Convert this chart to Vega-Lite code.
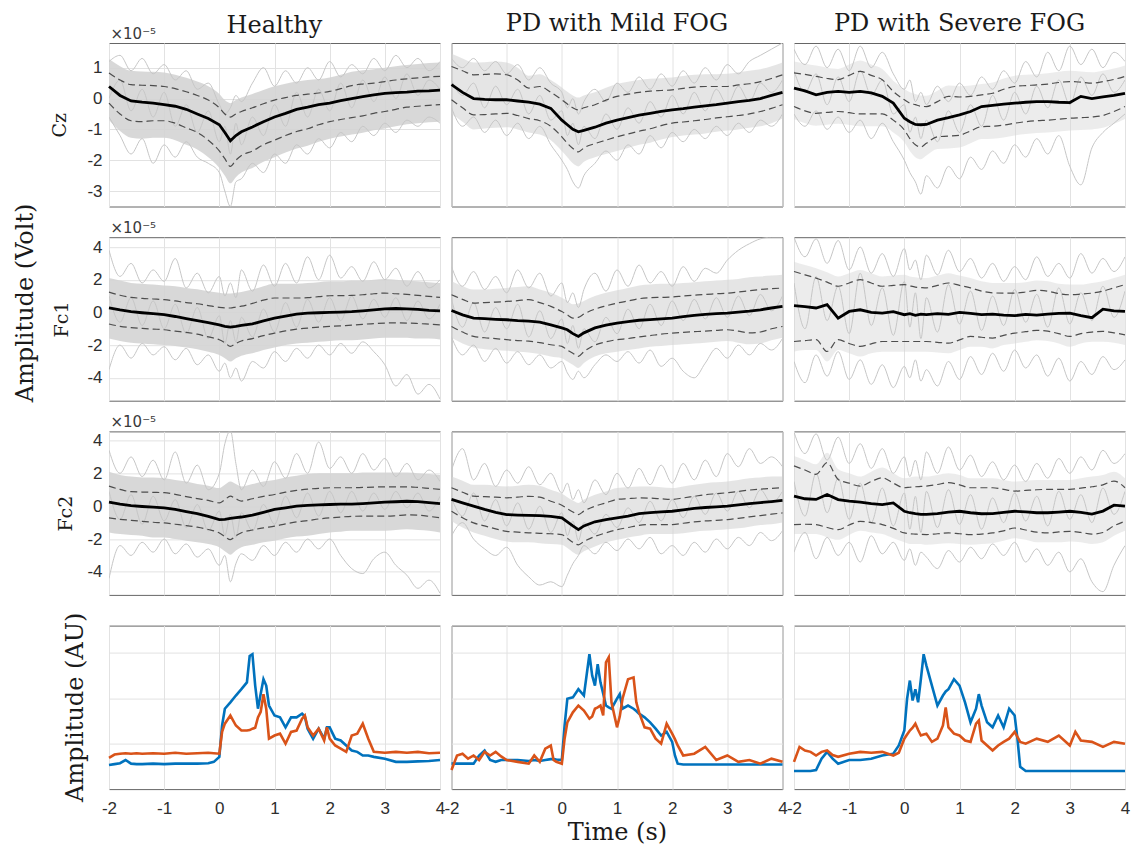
{
"$schema":"https://vega.github.io/schema/vega-lite/v6.json",
"background":"white",
"padding":{"left":13,"top":11,"right":2,"bottom":2},
"config":{
"view":{"stroke":"#666666","strokeWidth":1},
"axis":{"grid":true,"gridColor":"#e2e2e2","domain":false,"ticks":false,"labelFont":"Liberation Sans","labelFontSize":17,"labelColor":"#2e2e2e","titleFont":"DejaVu Serif","titleFontWeight":"normal","titleColor":"#1a1a1a","titleFontSize":24},
"title":{"font":"DejaVu Serif","fontSize":24,"fontWeight":"normal","color":"#1a1a1a"}
},
"datasets":{
"czH":[{"t":-2,"m":0.39,"u":0.83,"l":-0.15,"h":1.28,"w":-0.7,"a":1.2,"b":-0.6,"c":0},
{"t":-1.8,"m":0.1,"u":0.6,"l":-0.5,"h":1.05,"w":-1.05,"a":1.4,"b":-1.2,"c":0.6},
{"t":-1.6,"m":-0.08,"u":0.45,"l":-0.72,"h":0.9,"w":-1.27,"a":0.9,"b":-1.8,"c":-0.4},
{"t":-1.4,"m":-0.12,"u":0.43,"l":-0.75,"h":0.88,"w":-1.3,"a":1.3,"b":-1.3,"c":0.3},
{"t":-1.2,"m":-0.15,"u":0.42,"l":-0.72,"h":0.87,"w":-1.27,"a":0.8,"b":-2.1,"c":-0.6},
{"t":-1,"m":-0.2,"u":0.39,"l":-0.72,"h":0.84,"w":-1.27,"a":1.1,"b":-1.5,"c":0.2},
{"t":-0.8,"m":-0.25,"u":0.32,"l":-0.8,"h":0.77,"w":-1.35,"a":0.6,"b":-1.9,"c":-0.9},
{"t":-0.6,"m":-0.35,"u":0.22,"l":-0.95,"h":0.67,"w":-1.5,"a":0.9,"b":-1.4,"c":-0.2},
{"t":-0.4,"m":-0.5,"u":0.1,"l":-1.1,"h":0.55,"w":-1.65,"a":0.3,"b":-1.9,"c":-1.1},
{"t":-0.2,"m":-0.65,"u":-0.05,"l":-1.35,"h":0.4,"w":-1.9,"a":0.5,"b":-2.1,"c":-0.4},
{"t":0,"m":-0.85,"u":-0.3,"l":-1.7,"h":0.15,"w":-2.25,"a":-0.2,"b":-2.4,"c":-1.4},
{"t":0.1,"m":-1.1,"u":-0.5,"l":-1.95,"h":-0.05,"w":-2.5,"a":-0.5,"b":-3,"c":-0.9},
{"t":0.2,"m":-1.37,"u":-0.6,"l":-2.2,"h":-0.15,"w":-2.75,"a":-0.3,"b":-3.5,"c":-1.8},
{"t":0.3,"m":-1.2,"u":-0.5,"l":-2,"h":-0.05,"w":-2.55,"a":0.1,"b":-2.7,"c":-0.8},
{"t":0.4,"m":-1.08,"u":-0.42,"l":-1.85,"h":0.03,"w":-2.4,"a":-0.1,"b":-2.6,"c":-1.5},
{"t":0.6,"m":-0.92,"u":-0.3,"l":-1.7,"h":0.15,"w":-2.25,"a":0.5,"b":-2.1,"c":-0.6},
{"t":0.8,"m":-0.75,"u":-0.17,"l":-1.5,"h":0.28,"w":-2.05,"a":1,"b":-2.4,"c":-1.2},
{"t":1,"m":-0.6,"u":-0.05,"l":-1.35,"h":0.4,"w":-1.9,"a":0.4,"b":-1.8,"c":-0.2},
{"t":1.2,"m":-0.48,"u":0.03,"l":-1.2,"h":0.48,"w":-1.75,"a":0.9,"b":-2.1,"c":-0.9},
{"t":1.4,"m":-0.35,"u":0.1,"l":-1.07,"h":0.55,"w":-1.62,"a":0.5,"b":-1.5,"c":0.2},
{"t":1.6,"m":-0.28,"u":0.14,"l":-0.98,"h":0.6,"w":-1.53,"a":1,"b":-1.8,"c":-0.6},
{"t":1.8,"m":-0.2,"u":0.18,"l":-0.85,"h":0.63,"w":-1.4,"a":0.6,"b":-1.3,"c":0.3},
{"t":2,"m":-0.15,"u":0.23,"l":-0.75,"h":0.68,"w":-1.3,"a":1.2,"b":-1.6,"c":-0.4},
{"t":2.2,"m":-0.07,"u":0.32,"l":-0.68,"h":0.77,"w":-1.23,"a":0.7,"b":-1.1,"c":0.5},
{"t":2.4,"m":0,"u":0.42,"l":-0.62,"h":0.87,"w":-1.17,"a":1.1,"b":-1.4,"c":-0.3},
{"t":2.6,"m":0.06,"u":0.47,"l":-0.56,"h":0.92,"w":-1.11,"a":0.8,"b":-0.9,"c":0.6},
{"t":2.8,"m":0.12,"u":0.5,"l":-0.48,"h":0.95,"w":-1.03,"a":1.3,"b":-1.2,"c":-0.1},
{"t":3,"m":0.17,"u":0.55,"l":-0.42,"h":1,"w":-0.97,"a":0.9,"b":-0.8,"c":0.7},
{"t":3.2,"m":0.19,"u":0.6,"l":-0.35,"h":1.05,"w":-0.9,"a":1.4,"b":-1.1,"c":0},
{"t":3.4,"m":0.21,"u":0.64,"l":-0.28,"h":1.09,"w":-0.83,"a":1,"b":-0.7,"c":0.8},
{"t":3.6,"m":0.24,"u":0.67,"l":-0.25,"h":1.12,"w":-0.8,"a":1.3,"b":-0.9,"c":0.1},
{"t":3.8,"m":0.25,"u":0.7,"l":-0.22,"h":1.15,"w":-0.77,"a":0.9,"b":-0.6,"c":0.6},
{"t":4,"m":0.27,"u":0.72,"l":-0.2,"h":1.17,"w":-0.75,"a":1.2,"b":-0.8,"c":0.3}],
"czM":[{"t":-2,"m":0.45,"u":1.04,"l":-0.04,"h":1.45,"w":-0.5,"a":1.3,"b":-0.3,"c":0.6},
{"t":-1.8,"m":0.2,"u":0.9,"l":-0.3,"h":1.3,"w":-0.75,"a":1,"b":-0.9,"c":0.1},
{"t":-1.6,"m":0,"u":0.77,"l":-0.53,"h":1.17,"w":-1,"a":1.3,"b":-0.6,"c":0.5},
{"t":-1.4,"m":-0.03,"u":0.78,"l":-0.52,"h":1.18,"w":-0.97,"a":0.9,"b":-1.1,"c":-0.3},
{"t":-1.2,"m":-0.04,"u":0.8,"l":-0.5,"h":1.2,"w":-0.95,"a":1.2,"b":-0.7,"c":0.4},
{"t":-1,"m":-0.04,"u":0.77,"l":-0.48,"h":1.17,"w":-0.93,"a":0.8,"b":-1.2,"c":-0.2},
{"t":-0.8,"m":-0.08,"u":0.6,"l":-0.55,"h":1,"w":-1,"a":1.1,"b":-0.8,"c":0.3},
{"t":-0.6,"m":-0.12,"u":0.34,"l":-0.65,"h":0.74,"w":-1.1,"a":0.6,"b":-1.3,"c":-0.5},
{"t":-0.4,"m":-0.18,"u":0.39,"l":-0.72,"h":0.79,"w":-1.17,"a":1,"b":-0.9,"c":0.1},
{"t":-0.2,"m":-0.32,"u":0.2,"l":-0.9,"h":0.6,"w":-1.35,"a":0.5,"b":-1.5,"c":-0.7},
{"t":0,"m":-0.7,"u":-0.04,"l":-1.24,"h":0.36,"w":-1.7,"a":0.2,"b":-2,"c":-0.4},
{"t":0.1,"m":-0.85,"u":-0.18,"l":-1.45,"h":0.22,"w":-1.9,"a":-0.3,"b":-2.3,"c":-1.2},
{"t":0.2,"m":-1,"u":-0.3,"l":-1.62,"h":0.1,"w":-2.1,"a":0,"b":-2.7,"c":-0.8},
{"t":0.3,"m":-1.08,"u":-0.37,"l":-1.73,"h":0.03,"w":-2.2,"a":-0.5,"b":-2.9,"c":-1.5},
{"t":0.4,"m":-1.03,"u":-0.3,"l":-1.6,"h":0.1,"w":-2.05,"a":-0.1,"b":-2.5,"c":-0.9},
{"t":0.6,"m":-0.93,"u":-0.2,"l":-1.46,"h":0.2,"w":-1.9,"a":0.3,"b":-2.1,"c":-1.3},
{"t":0.8,"m":-0.8,"u":-0.05,"l":-1.35,"h":0.35,"w":-1.8,"a":-0.1,"b":-1.7,"c":-0.5},
{"t":1,"m":-0.7,"u":0.07,"l":-1.24,"h":0.47,"w":-1.7,"a":0.5,"b":-2,"c":-1},
{"t":1.2,"m":-0.62,"u":0.14,"l":-1.15,"h":0.54,"w":-1.6,"a":0.2,"b":-1.5,"c":-0.3},
{"t":1.4,"m":-0.54,"u":0.2,"l":-1.06,"h":0.6,"w":-1.5,"a":0.7,"b":-1.8,"c":-0.8},
{"t":1.6,"m":-0.48,"u":0.24,"l":-0.98,"h":0.64,"w":-1.43,"a":0.3,"b":-1.2,"c":-0.1},
{"t":1.8,"m":-0.42,"u":0.26,"l":-0.88,"h":0.66,"w":-1.33,"a":0.8,"b":-1.6,"c":-0.6},
{"t":2,"m":-0.37,"u":0.28,"l":-0.8,"h":0.68,"w":-1.25,"a":0.4,"b":-1.1,"c":0.1},
{"t":2.2,"m":-0.33,"u":0.33,"l":-0.76,"h":0.73,"w":-1.2,"a":0.9,"b":-1.4,"c":-0.5},
{"t":2.4,"m":-0.28,"u":0.37,"l":-0.72,"h":0.77,"w":-1.17,"a":0.5,"b":-1,"c":0.2},
{"t":2.6,"m":-0.24,"u":0.39,"l":-0.68,"h":0.79,"w":-1.13,"a":1,"b":-1.3,"c":-0.4},
{"t":2.8,"m":-0.2,"u":0.39,"l":-0.63,"h":0.79,"w":-1.08,"a":0.6,"b":-0.9,"c":0.3},
{"t":3,"m":-0.15,"u":0.39,"l":-0.59,"h":0.8,"w":-1.04,"a":1.1,"b":-1.2,"c":-0.2},
{"t":3.2,"m":-0.1,"u":0.44,"l":-0.55,"h":0.85,"w":-1,"a":0.8,"b":-0.8,"c":0.4},
{"t":3.4,"m":-0.06,"u":0.48,"l":-0.5,"h":0.9,"w":-0.95,"a":1.2,"b":-1.1,"c":-0.1},
{"t":3.6,"m":0,"u":0.55,"l":-0.42,"h":0.95,"w":-0.9,"a":1.4,"b":-0.7,"c":0.5},
{"t":3.8,"m":0.1,"u":0.65,"l":-0.32,"h":1.05,"w":-0.8,"a":1.6,"b":-0.9,"c":0.2},
{"t":4,"m":0.2,"u":0.77,"l":-0.2,"h":1.17,"w":-0.65,"a":1.8,"b":-0.5,"c":0.6}],
"czS":[{"t":-2,"m":0.34,"u":0.83,"l":-0.26,"h":1.2,"w":-0.66,"a":1.6,"b":-0.5,"c":0.9},
{"t":-1.8,"m":0.25,"u":0.78,"l":-0.4,"h":1.13,"w":-0.8,"a":1.1,"b":-0.9,"c":0.2},
{"t":-1.6,"m":0.12,"u":0.72,"l":-0.48,"h":1.07,"w":-0.88,"a":1.7,"b":-0.4,"c":0.8},
{"t":-1.4,"m":0.2,"u":0.65,"l":-0.45,"h":1,"w":-0.85,"a":1,"b":-1,"c":-0.2},
{"t":-1.2,"m":0.23,"u":0.61,"l":-0.42,"h":0.96,"w":-0.82,"a":1.6,"b":-0.6,"c":0.7},
{"t":-1,"m":0.2,"u":0.75,"l":-0.46,"h":1.1,"w":-0.86,"a":0.9,"b":-1.1,"c":-0.1},
{"t":-0.8,"m":0.23,"u":0.88,"l":-0.5,"h":1.23,"w":-0.9,"a":1.7,"b":-0.7,"c":0.9},
{"t":-0.6,"m":0.18,"u":0.75,"l":-0.5,"h":1.1,"w":-0.9,"a":1,"b":-1.3,"c":0.1},
{"t":-0.4,"m":0.07,"u":0.61,"l":-0.5,"h":0.96,"w":-0.9,"a":1.5,"b":-0.8,"c":0.6},
{"t":-0.2,"m":-0.15,"u":0.23,"l":-0.7,"h":0.58,"w":-1.1,"a":0.8,"b":-1.4,"c":-0.5},
{"t":0,"m":-0.64,"u":-0.04,"l":-1.02,"h":0.31,"w":-1.42,"a":0.3,"b":-2,"c":-0.2},
{"t":0.1,"m":-0.75,"u":-0.15,"l":-1.3,"h":0.2,"w":-1.7,"a":0.6,"b":-2.4,"c":-1.1},
{"t":0.2,"m":-0.84,"u":-0.2,"l":-1.5,"h":0.15,"w":-1.9,"a":-0.1,"b":-2.7,"c":-0.6},
{"t":0.3,"m":-0.85,"u":-0.25,"l":-1.57,"h":0.1,"w":-1.97,"a":0.2,"b":-3.1,"c":-1.3},
{"t":0.4,"m":-0.84,"u":-0.26,"l":-1.45,"h":0.09,"w":-1.85,"a":-0.2,"b":-2.5,"c":-0.7},
{"t":0.6,"m":-0.7,"u":-0.1,"l":-1.24,"h":0.25,"w":-1.64,"a":0.4,"b":-2.9,"c":-1.4},
{"t":0.8,"m":-0.62,"u":0.07,"l":-1.22,"h":0.42,"w":-1.62,"a":-0.1,"b":-2.2,"c":-0.4},
{"t":1,"m":-0.53,"u":0.05,"l":-1.19,"h":0.4,"w":-1.59,"a":0.5,"b":-2.6,"c":-1.1},
{"t":1.2,"m":-0.42,"u":0.07,"l":-1.05,"h":0.42,"w":-1.45,"a":0.1,"b":-1.9,"c":-0.2},
{"t":1.4,"m":-0.26,"u":0.12,"l":-0.91,"h":0.47,"w":-1.31,"a":0.7,"b":-2.3,"c":-0.9},
{"t":1.6,"m":-0.22,"u":0.17,"l":-0.9,"h":0.52,"w":-1.3,"a":0.3,"b":-1.7,"c":0.1},
{"t":1.8,"m":-0.18,"u":0.3,"l":-0.86,"h":0.65,"w":-1.26,"a":0.9,"b":-2.1,"c":-0.7},
{"t":2,"m":-0.15,"u":0.39,"l":-0.8,"h":0.74,"w":-1.2,"a":0.5,"b":-1.5,"c":0.2},
{"t":2.2,"m":-0.12,"u":0.42,"l":-0.75,"h":0.77,"w":-1.15,"a":1.2,"b":-1.9,"c":-0.5},
{"t":2.4,"m":-0.1,"u":0.44,"l":-0.72,"h":0.79,"w":-1.12,"a":0.7,"b":-1.3,"c":0.4},
{"t":2.6,"m":-0.1,"u":0.47,"l":-0.7,"h":0.82,"w":-1.1,"a":1.5,"b":-1.8,"c":-0.3},
{"t":2.8,"m":-0.12,"u":0.52,"l":-0.67,"h":0.87,"w":-1.07,"a":0.9,"b":-1.2,"c":0.6},
{"t":3,"m":-0.13,"u":0.55,"l":-0.64,"h":0.9,"w":-1.04,"a":1.7,"b":-2.2,"c":-0.2},
{"t":3.2,"m":0.07,"u":0.53,"l":-0.62,"h":0.88,"w":-1.02,"a":1.1,"b":-2.8,"c":0.7},
{"t":3.4,"m":0,"u":0.5,"l":-0.6,"h":0.85,"w":-1,"a":1.6,"b":-1.6,"c":0.1},
{"t":3.6,"m":0.05,"u":0.55,"l":-0.55,"h":0.9,"w":-0.95,"a":1,"b":-1.1,"c":0.8},
{"t":3.8,"m":0.1,"u":0.62,"l":-0.42,"h":0.97,"w":-0.82,"a":1.5,"b":-0.8,"c":0.2},
{"t":4,"m":0.17,"u":0.72,"l":-0.26,"h":1.07,"w":-0.66,"a":1.2,"b":-0.5,"c":0.6}],
"f1H":[{"t":-2,"m":0.27,"u":1.24,"l":-0.71,"h":2.1,"w":-1.6,"a":3.8,"b":-3.5,"c":1},
{"t":-1.8,"m":0.15,"u":1.05,"l":-0.85,"h":1.95,"w":-1.75,"a":2.2,"b":-2,"c":-0.6},
{"t":-1.6,"m":0.05,"u":0.92,"l":-0.93,"h":1.8,"w":-1.85,"a":3,"b":-2.8,"c":0.9},
{"t":-1.4,"m":-0.02,"u":0.86,"l":-0.98,"h":1.75,"w":-1.9,"a":1.8,"b":-1.9,"c":-0.8},
{"t":-1.2,"m":-0.08,"u":0.82,"l":-1.02,"h":1.7,"w":-1.95,"a":2.6,"b":-2.6,"c":0.7},
{"t":-1,"m":-0.14,"u":0.78,"l":-1.06,"h":1.65,"w":-2,"a":1.9,"b":-2.1,"c":-1},
{"t":-0.8,"m":-0.25,"u":0.7,"l":-1.15,"h":1.6,"w":-2.05,"a":3.3,"b":-2.9,"c":0.5},
{"t":-0.6,"m":-0.38,"u":0.6,"l":-1.22,"h":1.5,"w":-2.15,"a":1.5,"b":-2.2,"c":-1.3},
{"t":-0.4,"m":-0.5,"u":0.53,"l":-1.33,"h":1.42,"w":-2.25,"a":2.4,"b":-3.2,"c":0.3},
{"t":-0.2,"m":-0.62,"u":0.42,"l":-1.5,"h":1.3,"w":-2.4,"a":1.2,"b":-2.6,"c":-1.6},
{"t":0,"m":-0.76,"u":0.31,"l":-1.67,"h":1.2,"w":-2.6,"a":2.2,"b":-3.6,"c":-0.2},
{"t":0.1,"m":-0.85,"u":0.28,"l":-1.85,"h":1.15,"w":-2.8,"a":1,"b":-3.1,"c":-1.9},
{"t":0.2,"m":-0.9,"u":0.27,"l":-2.08,"h":1.15,"w":-3,"a":1.8,"b":-4,"c":-0.5},
{"t":0.3,"m":-0.86,"u":0.33,"l":-1.9,"h":1.2,"w":-2.8,"a":0.9,"b":-3.4,"c":-1.8},
{"t":0.4,"m":-0.8,"u":0.38,"l":-1.75,"h":1.25,"w":-2.65,"a":2.6,"b":-4.2,"c":-0.3},
{"t":0.6,"m":-0.7,"u":0.55,"l":-1.6,"h":1.4,"w":-2.5,"a":1.3,"b":-3,"c":-1.5},
{"t":0.8,"m":-0.52,"u":0.75,"l":-1.42,"h":1.6,"w":-2.3,"a":2.9,"b":-3.4,"c":0.2},
{"t":1,"m":-0.35,"u":0.88,"l":-1.27,"h":1.75,"w":-2.15,"a":1.6,"b":-2.4,"c":-1.2},
{"t":1.2,"m":-0.22,"u":0.88,"l":-1.13,"h":1.75,"w":-2,"a":3,"b":-3,"c":0.6},
{"t":1.4,"m":-0.1,"u":0.88,"l":-1.02,"h":1.75,"w":-1.9,"a":1.8,"b":-2.2,"c":-0.9},
{"t":1.6,"m":-0.04,"u":0.9,"l":-0.96,"h":1.8,"w":-1.85,"a":3.4,"b":-2.8,"c":0.8},
{"t":1.8,"m":-0.02,"u":0.96,"l":-0.9,"h":1.85,"w":-1.8,"a":2,"b":-2,"c":-0.6},
{"t":2,"m":0,"u":1.02,"l":-0.86,"h":1.9,"w":-1.75,"a":3.5,"b":-2.6,"c":0.9},
{"t":2.2,"m":0.02,"u":1.03,"l":-0.82,"h":1.9,"w":-1.7,"a":2.1,"b":-1.9,"c":-0.5},
{"t":2.4,"m":0.05,"u":1.04,"l":-0.78,"h":1.95,"w":-1.7,"a":2.8,"b":-2.5,"c":1},
{"t":2.6,"m":0.1,"u":1.08,"l":-0.73,"h":1.95,"w":-1.65,"a":1.9,"b":-1.8,"c":-0.4},
{"t":2.8,"m":0.16,"u":1.14,"l":-0.68,"h":2,"w":-1.6,"a":3.1,"b":-2.4,"c":0.8},
{"t":3,"m":0.22,"u":1.18,"l":-0.65,"h":2.05,"w":-1.55,"a":2,"b":-3.2,"c":-0.3},
{"t":3.2,"m":0.24,"u":1.14,"l":-0.64,"h":2,"w":-1.55,"a":2.7,"b":-4.5,"c":0.9},
{"t":3.4,"m":0.22,"u":1.1,"l":-0.65,"h":1.95,"w":-1.55,"a":1.6,"b":-3.8,"c":-0.5},
{"t":3.6,"m":0.18,"u":1.04,"l":-0.68,"h":1.9,"w":-1.6,"a":2.5,"b":-5,"c":0.7},
{"t":3.8,"m":0.12,"u":0.98,"l":-0.72,"h":1.85,"w":-1.6,"a":1.5,"b":-4.4,"c":-0.4},
{"t":4,"m":0.1,"u":0.92,"l":-0.76,"h":1.8,"w":-1.65,"a":2,"b":-5.3,"c":0.5}],
"f1M":[{"t":-2,"m":0.12,"u":1.08,"l":-0.86,"h":1.9,"w":-1.55,"a":2.8,"b":-1.5,"c":0.8},
{"t":-1.8,"m":-0.15,"u":0.8,"l":-1.2,"h":1.6,"w":-1.9,"a":1.6,"b":-2.6,"c":-0.9},
{"t":-1.6,"m":-0.35,"u":0.57,"l":-1.47,"h":1.4,"w":-2.15,"a":2.5,"b":-2,"c":0.6},
{"t":-1.4,"m":-0.38,"u":0.6,"l":-1.55,"h":1.4,"w":-2.25,"a":1.4,"b":-3,"c":-1.2},
{"t":-1.2,"m":-0.42,"u":0.63,"l":-1.6,"h":1.45,"w":-2.3,"a":2.2,"b":-2.2,"c":0.3},
{"t":-1,"m":-0.45,"u":0.67,"l":-1.67,"h":1.5,"w":-2.35,"a":1.2,"b":-3.1,"c":-1},
{"t":-0.8,"m":-0.5,"u":0.72,"l":-1.72,"h":1.55,"w":-2.4,"a":2.6,"b":-2.4,"c":0.5},
{"t":-0.6,"m":-0.53,"u":0.78,"l":-1.76,"h":1.6,"w":-2.45,"a":1.5,"b":-3.2,"c":-1.5},
{"t":-0.4,"m":-0.6,"u":0.6,"l":-1.85,"h":1.4,"w":-2.55,"a":2.4,"b":-2.6,"c":0.1},
{"t":-0.2,"m":-0.76,"u":0.37,"l":-1.98,"h":1.2,"w":-2.7,"a":1,"b":-3.4,"c":-1.6},
{"t":0,"m":-0.95,"u":0.05,"l":-2.08,"h":0.9,"w":-2.8,"a":1.8,"b":-3,"c":-0.4},
{"t":0.1,"m":-1.06,"u":-0.15,"l":-2.3,"h":0.7,"w":-3,"a":0.6,"b":-3.7,"c":-1.9},
{"t":0.2,"m":-1.3,"u":-0.35,"l":-2.5,"h":0.5,"w":-3.2,"a":1.2,"b":-4.1,"c":-0.8},
{"t":0.3,"m":-1.47,"u":-0.3,"l":-2.69,"h":0.55,"w":-3.4,"a":0.3,"b":-3.6,"c":-2.2},
{"t":0.4,"m":-1.25,"u":-0.1,"l":-2.4,"h":0.7,"w":-3.1,"a":1.4,"b":-4,"c":-1},
{"t":0.6,"m":-0.95,"u":0.2,"l":-2,"h":1,"w":-2.7,"a":2.4,"b":-3.2,"c":-1.8},
{"t":0.8,"m":-0.78,"u":0.4,"l":-1.8,"h":1.2,"w":-2.5,"a":1.3,"b":-2.6,"c":-0.3},
{"t":1,"m":-0.65,"u":0.57,"l":-1.67,"h":1.35,"w":-2.4,"a":2.6,"b":-3,"c":-1.3},
{"t":1.2,"m":-0.57,"u":0.7,"l":-1.6,"h":1.5,"w":-2.3,"a":1.6,"b":-2.4,"c":0.2},
{"t":1.4,"m":-0.48,"u":0.84,"l":-1.5,"h":1.65,"w":-2.2,"a":2.9,"b":-3.1,"c":-1},
{"t":1.6,"m":-0.44,"u":0.9,"l":-1.42,"h":1.7,"w":-2.1,"a":1.8,"b":-2.3,"c":0.5},
{"t":1.8,"m":-0.4,"u":0.92,"l":-1.33,"h":1.75,"w":-2.05,"a":2.5,"b":-3.3,"c":-0.8},
{"t":2,"m":-0.35,"u":0.94,"l":-1.27,"h":1.75,"w":-2,"a":1.6,"b":-2.8,"c":0.7},
{"t":2.2,"m":-0.26,"u":1,"l":-1.22,"h":1.8,"w":-1.95,"a":2.8,"b":-3.6,"c":-0.5},
{"t":2.4,"m":-0.18,"u":1.05,"l":-1.18,"h":1.85,"w":-1.9,"a":1.9,"b":-4,"c":0.8},
{"t":2.6,"m":-0.12,"u":1.1,"l":-1.14,"h":1.9,"w":-1.85,"a":2.7,"b":-3.1,"c":-0.4},
{"t":2.8,"m":-0.08,"u":1.14,"l":-1.1,"h":1.95,"w":-1.8,"a":2.4,"b":-2.2,"c":0.9},
{"t":3,"m":-0.04,"u":1.18,"l":-1.06,"h":2,"w":-1.75,"a":3.2,"b":-2.8,"c":-0.3},
{"t":3.2,"m":0.02,"u":1.25,"l":-1.15,"h":2.05,"w":-1.85,"a":3.8,"b":-2,"c":1},
{"t":3.4,"m":0.08,"u":1.33,"l":-1.25,"h":2.15,"w":-1.95,"a":4.2,"b":-2.6,"c":-0.2},
{"t":3.6,"m":0.16,"u":1.4,"l":-1.2,"h":2.2,"w":-1.9,"a":4.5,"b":-1.9,"c":1.1},
{"t":3.8,"m":0.27,"u":1.45,"l":-1,"h":2.25,"w":-1.7,"a":4.6,"b":-2.3,"c":0.1},
{"t":4,"m":0.37,"u":1.49,"l":-0.86,"h":2.3,"w":-1.55,"a":4.6,"b":-1.6,"c":1}],
"f1S":[{"t":-2,"m":0.41,"u":2.5,"l":-1.78,"h":3.1,"w":-2.4,"a":4.6,"b":-3,"c":1.8},
{"t":-1.8,"m":0.35,"u":2.3,"l":-1.72,"h":2.9,"w":-2.3,"a":3.4,"b":-4.3,"c":-1},
{"t":-1.6,"m":0.27,"u":2.1,"l":-1.67,"h":2.7,"w":-2.3,"a":4.5,"b":-2.6,"c":2.2},
{"t":-1.4,"m":0.47,"u":1.85,"l":-2.39,"h":2.45,"w":-3,"a":3,"b":-3.9,"c":-0.5},
{"t":-1.2,"m":-0.35,"u":1.6,"l":-1.67,"h":2.2,"w":-2.3,"a":4.4,"b":-2.4,"c":1.6},
{"t":-1,"m":0.06,"u":1.8,"l":-1.9,"h":2.4,"w":-2.5,"a":2.6,"b":-4.1,"c":-1.3},
{"t":-0.8,"m":0.16,"u":2,"l":-2.08,"h":2.6,"w":-2.7,"a":4,"b":-2.9,"c":2.4},
{"t":-0.6,"m":0,"u":1.8,"l":-1.92,"h":2.4,"w":-2.5,"a":2.4,"b":-4.4,"c":-0.8},
{"t":-0.4,"m":-0.04,"u":1.6,"l":-1.78,"h":2.2,"w":-2.4,"a":3.6,"b":-3.2,"c":1.5},
{"t":-0.2,"m":0.05,"u":1.65,"l":-1.78,"h":2.25,"w":-2.4,"a":2.2,"b":-4.6,"c":-1.4},
{"t":0,"m":-0.14,"u":1.7,"l":-1.78,"h":2.3,"w":-2.4,"a":3.9,"b":-3.3,"c":1.9},
{"t":0.1,"m":-0.08,"u":1.62,"l":-1.78,"h":2.2,"w":-2.4,"a":2.6,"b":-4,"c":-0.9},
{"t":0.2,"m":-0.18,"u":1.55,"l":-1.78,"h":2.15,"w":-2.4,"a":3.2,"b":-2.9,"c":1.2},
{"t":0.3,"m":-0.1,"u":1.52,"l":-1.78,"h":2.1,"w":-2.4,"a":2,"b":-4.2,"c":-1.6},
{"t":0.4,"m":-0.14,"u":1.5,"l":-1.78,"h":2.1,"w":-2.4,"a":3.5,"b":-3.5,"c":0.9},
{"t":0.6,"m":-0.08,"u":1.65,"l":-1.83,"h":2.25,"w":-2.45,"a":2.3,"b":-4.5,"c":-1.2},
{"t":0.8,"m":-0.12,"u":1.8,"l":-1.88,"h":2.4,"w":-2.5,"a":3.8,"b":-3,"c":1.7},
{"t":1,"m":0,"u":1.65,"l":-1.68,"h":2.25,"w":-2.3,"a":2.5,"b":-4.1,"c":-0.7},
{"t":1.2,"m":-0.06,"u":1.5,"l":-1.47,"h":2.1,"w":-2.1,"a":3.3,"b":-2.7,"c":1.3},
{"t":1.4,"m":-0.14,"u":1.3,"l":-1.52,"h":1.9,"w":-2.1,"a":2.1,"b":-3.8,"c":-1.1},
{"t":1.6,"m":-0.1,"u":1.2,"l":-1.57,"h":1.8,"w":-2.2,"a":3,"b":-2.5,"c":1},
{"t":1.8,"m":-0.16,"u":1.18,"l":-1.4,"h":1.8,"w":-2,"a":1.9,"b":-3.6,"c":-0.8},
{"t":2,"m":-0.2,"u":1.18,"l":-1.27,"h":1.8,"w":-1.9,"a":2.8,"b":-2.3,"c":1.4},
{"t":2.2,"m":-0.12,"u":1.25,"l":-1.18,"h":1.85,"w":-1.8,"a":2,"b":-3.4,"c":-0.6},
{"t":2.4,"m":-0.16,"u":1.35,"l":-1.1,"h":1.95,"w":-1.7,"a":3.4,"b":-2.6,"c":1.1},
{"t":2.6,"m":-0.1,"u":1.3,"l":-1.15,"h":1.9,"w":-1.75,"a":2.2,"b":-3.9,"c":-0.9},
{"t":2.8,"m":-0.06,"u":1.15,"l":-1.3,"h":1.75,"w":-1.9,"a":3,"b":-2.8,"c":1.5},
{"t":3,"m":-0.04,"u":1.08,"l":-1.47,"h":1.7,"w":-2.1,"a":2.1,"b":-4.2,"c":-0.7},
{"t":3.2,"m":-0.2,"u":1.12,"l":-1.3,"h":1.7,"w":-1.9,"a":3.6,"b":-3,"c":1.2},
{"t":3.4,"m":-0.32,"u":1.18,"l":-1.2,"h":1.8,"w":-1.8,"a":2.4,"b":-3.8,"c":-0.5},
{"t":3.6,"m":0.2,"u":1.3,"l":-1.16,"h":1.9,"w":-1.8,"a":3.3,"b":-2.7,"c":1.6},
{"t":3.8,"m":0.1,"u":1.5,"l":-1.25,"h":2.1,"w":-1.85,"a":2.5,"b":-3.5,"c":-0.3},
{"t":4,"m":0.06,"u":1.7,"l":-1.37,"h":2.3,"w":-2,"a":3.4,"b":-2.9,"c":1.3}],
"f2H":[{"t":-2,"m":0.24,"u":1.22,"l":-0.71,"h":2.1,"w":-1.6,"a":3.4,"b":-4.4,"c":0.9},
{"t":-1.8,"m":0.12,"u":1.02,"l":-0.8,"h":1.9,"w":-1.7,"a":2,"b":-2.4,"c":-0.8},
{"t":-1.6,"m":0.03,"u":0.88,"l":-0.86,"h":1.8,"w":-1.75,"a":3,"b":-3,"c":0.7},
{"t":-1.4,"m":-0.02,"u":0.86,"l":-0.92,"h":1.75,"w":-1.8,"a":1.8,"b":-2.2,"c":-1.1},
{"t":-1.2,"m":-0.06,"u":0.84,"l":-0.98,"h":1.75,"w":-1.9,"a":2.8,"b":-2.8,"c":0.6},
{"t":-1,"m":-0.1,"u":0.82,"l":-1.02,"h":1.7,"w":-1.9,"a":1.6,"b":-2,"c":-0.9},
{"t":-0.8,"m":-0.2,"u":0.72,"l":-1.1,"h":1.6,"w":-2,"a":3.3,"b":-2.9,"c":0.4},
{"t":-0.6,"m":-0.33,"u":0.58,"l":-1.18,"h":1.5,"w":-2.1,"a":1.4,"b":-2.3,"c":-1.3},
{"t":-0.4,"m":-0.46,"u":0.46,"l":-1.28,"h":1.35,"w":-2.2,"a":2.5,"b":-3.1,"c":0.1},
{"t":-0.2,"m":-0.62,"u":0.35,"l":-1.42,"h":1.25,"w":-2.3,"a":1,"b":-2.6,"c":-1.5},
{"t":0,"m":-0.82,"u":0.2,"l":-1.63,"h":1.1,"w":-2.5,"a":2,"b":-3.6,"c":-0.3},
{"t":0.1,"m":-0.8,"u":0.4,"l":-1.85,"h":1.3,"w":-2.75,"a":3.8,"b":-3,"c":-1.8},
{"t":0.2,"m":-0.75,"u":0.61,"l":-2.04,"h":1.5,"w":-2.95,"a":4.6,"b":-4.6,"c":-0.5},
{"t":0.3,"m":-0.7,"u":0.45,"l":-1.8,"h":1.35,"w":-2.7,"a":2.6,"b":-3.5,"c":-1.9},
{"t":0.4,"m":-0.66,"u":0.31,"l":-1.62,"h":1.2,"w":-2.5,"a":1,"b":-2.9,"c":-0.4},
{"t":0.6,"m":-0.55,"u":0.45,"l":-1.45,"h":1.35,"w":-2.35,"a":2.2,"b":-3.3,"c":-1.5},
{"t":0.8,"m":-0.38,"u":0.6,"l":-1.32,"h":1.5,"w":-2.2,"a":1.2,"b":-2.4,"c":0.1},
{"t":1,"m":-0.2,"u":0.71,"l":-1.22,"h":1.6,"w":-2.1,"a":2.7,"b":-3,"c":-1.1},
{"t":1.2,"m":-0.1,"u":0.85,"l":-1.08,"h":1.75,"w":-1.95,"a":1.7,"b":-2.2,"c":0.6},
{"t":1.4,"m":0,"u":0.96,"l":-0.96,"h":1.85,"w":-1.85,"a":3.2,"b":-2.8,"c":-0.7},
{"t":1.6,"m":0.05,"u":1.04,"l":-0.88,"h":1.95,"w":-1.8,"a":2,"b":-2,"c":0.8},
{"t":1.8,"m":0.08,"u":1.08,"l":-0.78,"h":2,"w":-1.7,"a":3.9,"b":-2.6,"c":-0.6},
{"t":2,"m":0.1,"u":1.12,"l":-0.71,"h":2,"w":-1.6,"a":2.3,"b":-2,"c":0.9},
{"t":2.2,"m":0.12,"u":1.12,"l":-0.66,"h":2,"w":-1.55,"a":3,"b":-3,"c":-0.4},
{"t":2.4,"m":0.13,"u":1.12,"l":-0.62,"h":2,"w":-1.5,"a":2,"b":-3.8,"c":0.9},
{"t":2.6,"m":0.16,"u":1.14,"l":-0.61,"h":2.05,"w":-1.5,"a":3.2,"b":-4.1,"c":-0.3},
{"t":2.8,"m":0.2,"u":1.16,"l":-0.61,"h":2.05,"w":-1.5,"a":2.2,"b":-3.2,"c":0.8},
{"t":3,"m":0.24,"u":1.18,"l":-0.61,"h":2.05,"w":-1.5,"a":2.9,"b":-2.8,"c":-0.2},
{"t":3.2,"m":0.27,"u":1.18,"l":-0.58,"h":2.05,"w":-1.45,"a":1.8,"b":-3.6,"c":0.9},
{"t":3.4,"m":0.3,"u":1.18,"l":-0.53,"h":2.05,"w":-1.4,"a":2.6,"b":-4.2,"c":-0.1},
{"t":3.6,"m":0.28,"u":1.14,"l":-0.55,"h":2,"w":-1.45,"a":1.6,"b":-5,"c":0.8},
{"t":3.8,"m":0.22,"u":1.08,"l":-0.62,"h":1.95,"w":-1.5,"a":2.2,"b":-4.5,"c":-0.3},
{"t":4,"m":0.16,"u":1.02,"l":-0.71,"h":1.9,"w":-1.6,"a":1.5,"b":-5.3,"c":0.6}],
"f2M":[{"t":-2,"m":0.41,"u":1.12,"l":-0.31,"h":1.8,"w":-0.9,"a":2.2,"b":-1.8,"c":0.5},
{"t":-1.8,"m":0.2,"u":0.85,"l":-0.7,"h":1.55,"w":-1.3,"a":3.5,"b":-1,"c":-0.6},
{"t":-1.6,"m":0,"u":0.61,"l":-1.02,"h":1.3,"w":-1.6,"a":1.6,"b":-2,"c":0.8},
{"t":-1.4,"m":-0.2,"u":0.58,"l":-1.2,"h":1.3,"w":-1.8,"a":2.6,"b":-2.6,"c":-0.9},
{"t":-1.2,"m":-0.38,"u":0.55,"l":-1.38,"h":1.25,"w":-2,"a":1.2,"b":-3,"c":0.4},
{"t":-1,"m":-0.51,"u":0.51,"l":-1.53,"h":1.2,"w":-2.15,"a":2.2,"b":-2.5,"c":-1.2},
{"t":-0.8,"m":-0.54,"u":0.55,"l":-1.58,"h":1.25,"w":-2.2,"a":1.4,"b":-3.6,"c":0.2},
{"t":-0.6,"m":-0.56,"u":0.6,"l":-1.62,"h":1.3,"w":-2.2,"a":2.4,"b":-4.3,"c":-1.4},
{"t":-0.4,"m":-0.58,"u":0.55,"l":-1.65,"h":1.25,"w":-2.25,"a":1.3,"b":-4.8,"c":0},
{"t":-0.2,"m":-0.62,"u":0.3,"l":-1.68,"h":1,"w":-2.3,"a":2,"b":-4.6,"c":-1.6},
{"t":0,"m":-0.71,"u":0.06,"l":-1.73,"h":0.75,"w":-2.35,"a":0.8,"b":-4.9,"c":-0.4},
{"t":0.1,"m":-0.95,"u":-0.15,"l":-1.95,"h":0.55,"w":-2.55,"a":1.4,"b":-4.2,"c":-1.8},
{"t":0.2,"m":-1.2,"u":-0.35,"l":-2.2,"h":0.35,"w":-2.8,"a":0.4,"b":-3.5,"c":-0.9},
{"t":0.3,"m":-1.43,"u":-0.51,"l":-2.35,"h":0.2,"w":-2.95,"a":1,"b":-3,"c":-2.1},
{"t":0.4,"m":-1.2,"u":-0.3,"l":-2.15,"h":0.4,"w":-2.75,"a":0.2,"b":-2.4,"c":-1},
{"t":0.6,"m":-0.95,"u":0,"l":-1.84,"h":0.7,"w":-2.45,"a":1.6,"b":-2.9,"c":-1.7},
{"t":0.8,"m":-0.82,"u":0.2,"l":-1.62,"h":0.9,"w":-2.2,"a":0.7,"b":-2.2,"c":-0.5},
{"t":1,"m":-0.71,"u":0.41,"l":-1.43,"h":1.1,"w":-2.05,"a":2,"b":-2.7,"c":-1.3},
{"t":1.2,"m":-0.6,"u":0.46,"l":-1.3,"h":1.15,"w":-1.9,"a":1.1,"b":-2,"c":-0.1},
{"t":1.4,"m":-0.46,"u":0.5,"l":-1.17,"h":1.2,"w":-1.8,"a":2.3,"b":-2.6,"c":-1},
{"t":1.6,"m":-0.39,"u":0.49,"l":-1.12,"h":1.2,"w":-1.7,"a":1.3,"b":-1.9,"c":0.3},
{"t":1.8,"m":-0.35,"u":0.45,"l":-1.12,"h":1.15,"w":-1.7,"a":2.5,"b":-2.9,"c":-0.9},
{"t":2,"m":-0.31,"u":0.41,"l":-1.12,"h":1.1,"w":-1.7,"a":1.4,"b":-2.4,"c":0.4},
{"t":2.2,"m":-0.22,"u":0.5,"l":-1.04,"h":1.2,"w":-1.65,"a":2.6,"b":-3,"c":-0.7},
{"t":2.4,"m":-0.14,"u":0.6,"l":-0.96,"h":1.3,"w":-1.55,"a":1.6,"b":-2.2,"c":0.6},
{"t":2.6,"m":-0.08,"u":0.7,"l":-0.9,"h":1.4,"w":-1.5,"a":2.8,"b":-2.8,"c":-0.5},
{"t":2.8,"m":-0.04,"u":0.76,"l":-0.86,"h":1.45,"w":-1.45,"a":1.8,"b":-2,"c":0.8},
{"t":3,"m":0,"u":0.82,"l":-0.82,"h":1.5,"w":-1.4,"a":3.2,"b":-2.6,"c":-0.3},
{"t":3.2,"m":0.08,"u":0.9,"l":-0.74,"h":1.6,"w":-1.35,"a":2.4,"b":-1.9,"c":0.9},
{"t":3.4,"m":0.16,"u":0.98,"l":-0.65,"h":1.7,"w":-1.25,"a":3.5,"b":-2.4,"c":-0.1},
{"t":3.6,"m":0.22,"u":1.04,"l":-0.57,"h":1.75,"w":-1.15,"a":2.6,"b":-1.6,"c":1},
{"t":3.8,"m":0.28,"u":1.08,"l":-0.49,"h":1.8,"w":-1.1,"a":3,"b":-2.1,"c":0.2},
{"t":4,"m":0.35,"u":1.12,"l":-0.41,"h":1.8,"w":-1,"a":2.4,"b":-1.5,"c":0.9}],
"f2S":[{"t":-2,"m":0.61,"u":2.45,"l":-1.12,"h":3.05,"w":-1.7,"a":4.5,"b":-2.8,"c":1.5},
{"t":-1.8,"m":0.45,"u":2.2,"l":-1.1,"h":2.8,"w":-1.7,"a":3.2,"b":-1.6,"c":-0.6},
{"t":-1.6,"m":0.41,"u":1.94,"l":-1.12,"h":2.55,"w":-1.7,"a":4.4,"b":-3.2,"c":2},
{"t":-1.4,"m":0.71,"u":2.65,"l":-1.3,"h":3.25,"w":-1.9,"a":2.8,"b":-1.9,"c":-0.4},
{"t":-1.2,"m":0.4,"u":1.63,"l":-1.43,"h":2.25,"w":-2.05,"a":4.2,"b":-3,"c":1.7},
{"t":-1,"m":0.31,"u":1.4,"l":-1.15,"h":2,"w":-1.75,"a":2.6,"b":-2.2,"c":-0.8},
{"t":-0.8,"m":0.25,"u":1.22,"l":-0.92,"h":1.8,"w":-1.5,"a":3.8,"b":-3.4,"c":1.4},
{"t":-0.6,"m":0.15,"u":1.5,"l":-1,"h":2.1,"w":-1.6,"a":2.3,"b":-1.8,"c":-1},
{"t":-0.4,"m":0.1,"u":1.73,"l":-1.12,"h":2.35,"w":-1.7,"a":3.5,"b":-2.9,"c":1.1},
{"t":-0.2,"m":0.2,"u":1.4,"l":-1.35,"h":2,"w":-1.95,"a":2,"b":-2.2,"c":-1.2},
{"t":0,"m":-0.31,"u":1.12,"l":-1.63,"h":1.7,"w":-2.2,"a":3,"b":-3.3,"c":0.8},
{"t":0.1,"m":-0.4,"u":1.15,"l":-1.68,"h":1.75,"w":-2.3,"a":1.8,"b":-2.6,"c":-1.4},
{"t":0.2,"m":-0.46,"u":1.18,"l":-1.7,"h":1.8,"w":-2.3,"a":2.8,"b":-3.6,"c":0.6},
{"t":0.3,"m":-0.5,"u":1.2,"l":-1.72,"h":1.8,"w":-2.3,"a":1.6,"b":-2.8,"c":-1.6},
{"t":0.4,"m":-0.5,"u":1.22,"l":-1.73,"h":1.8,"w":-2.35,"a":3.3,"b":-3.1,"c":0.9},
{"t":0.6,"m":-0.45,"u":1.32,"l":-1.68,"h":1.9,"w":-2.3,"a":2,"b":-3.8,"c":-1.3},
{"t":0.8,"m":-0.36,"u":1.43,"l":-1.63,"h":2,"w":-2.25,"a":3.6,"b":-2.7,"c":1},
{"t":1,"m":-0.31,"u":1.3,"l":-1.68,"h":1.9,"w":-2.3,"a":2.2,"b":-3.4,"c":-1.1},
{"t":1.2,"m":-0.4,"u":1.12,"l":-1.73,"h":1.7,"w":-2.35,"a":3.1,"b":-2.5,"c":0.7},
{"t":1.4,"m":-0.46,"u":1.12,"l":-1.7,"h":1.7,"w":-2.3,"a":1.8,"b":-3.2,"c":-1.4},
{"t":1.6,"m":-0.45,"u":1.12,"l":-1.63,"h":1.7,"w":-2.25,"a":2.7,"b":-2.3,"c":0.5},
{"t":1.8,"m":-0.38,"u":1.02,"l":-1.5,"h":1.6,"w":-2.1,"a":1.6,"b":-3,"c":-1},
{"t":2,"m":-0.31,"u":0.92,"l":-1.33,"h":1.5,"w":-1.95,"a":2.5,"b":-2.2,"c":0.8},
{"t":2.2,"m":-0.35,"u":0.96,"l":-1.45,"h":1.55,"w":-2.05,"a":1.5,"b":-3.4,"c":-0.9},
{"t":2.4,"m":-0.4,"u":1,"l":-1.58,"h":1.6,"w":-2.2,"a":2.6,"b":-2.6,"c":0.6},
{"t":2.6,"m":-0.4,"u":1.02,"l":-1.62,"h":1.6,"w":-2.2,"a":1.7,"b":-3.6,"c":-1.2},
{"t":2.8,"m":-0.36,"u":1.02,"l":-1.57,"h":1.6,"w":-2.2,"a":2.9,"b":-2.8,"c":0.9},
{"t":3,"m":-0.31,"u":1.02,"l":-1.53,"h":1.6,"w":-2.15,"a":2,"b":-4,"c":-0.8},
{"t":3.2,"m":-0.38,"u":1.1,"l":-1.6,"h":1.7,"w":-2.2,"a":3,"b":-3.2,"c":0.7},
{"t":3.4,"m":-0.48,"u":1.18,"l":-1.7,"h":1.8,"w":-2.3,"a":2.2,"b":-4.6,"c":-1},
{"t":3.6,"m":-0.3,"u":1.3,"l":-1.6,"h":1.9,"w":-2.2,"a":3.4,"b":-5.2,"c":1.1},
{"t":3.8,"m":0.06,"u":1.53,"l":-1.2,"h":2.1,"w":-1.8,"a":2.6,"b":-3.6,"c":-0.5},
{"t":4,"m":0,"u":1.12,"l":-0.92,"h":1.7,"w":-1.5,"a":3.2,"b":-2.4,"c":0.9}],
"auH":[{"t":-2,"b":0.53,"o":0.69},{"t":-1.9,"b":0.55,"o":0.76},{"t":-1.8,"b":0.57,"o":0.78},{"t":-1.7,"b":0.64,"o":0.79},{"t":-1.6,"b":0.56,"o":0.78},{"t":-1.5,"b":0.55,"o":0.79},{"t":-1.4,"b":0.55,"o":0.78},{"t":-1.2,"b":0.56,"o":0.79},{"t":-1,"b":0.55,"o":0.78},{"t":-0.8,"b":0.56,"o":0.8},{"t":-0.6,"b":0.56,"o":0.78},{"t":-0.4,"b":0.56,"o":0.79},{"t":-0.2,"b":0.57,"o":0.8},{"t":-0.1,"b":0.6,"o":0.79},{"t":0,"b":0.71,"o":0.78},{"t":0.05,"b":1.4,"o":1.26},{"t":0.1,"b":1.77,"o":1.44},{"t":0.2,"b":1.91,"o":1.62},{"t":0.3,"b":2.06,"o":1.4},{"t":0.4,"b":2.2,"o":1.29},{"t":0.5,"b":2.35,"o":1.29},{"t":0.55,"b":2.93,"o":1.3},{"t":0.6,"b":2.97,"o":1.33},{"t":0.65,"b":2.28,"o":1.35},{"t":0.7,"b":1.77,"o":1.58},{"t":0.75,"b":2.1,"o":1.7},{"t":0.8,"b":2.42,"o":2.09},{"t":0.85,"b":2.28,"o":1.77},{"t":0.9,"b":1.84,"o":1.11},{"t":1,"b":1.62,"o":1.18},{"t":1.1,"b":1.58,"o":1.22},{"t":1.2,"b":1.36,"o":1},{"t":1.3,"b":1.58,"o":1.26},{"t":1.4,"b":1.58,"o":1.29},{"t":1.5,"b":1.66,"o":1.55},{"t":1.55,"b":1.6,"o":1.62},{"t":1.6,"b":1.33,"o":1.36},{"t":1.7,"b":1.11,"o":1.18},{"t":1.8,"b":1.33,"o":1.33},{"t":1.9,"b":1.11,"o":1.07},{"t":1.95,"b":1.36,"o":1.36},{"t":2,"b":1.36,"o":1.11},{"t":2.1,"b":1.11,"o":0.96},{"t":2.2,"b":1.07,"o":0.89},{"t":2.3,"b":0.96,"o":0.82},{"t":2.4,"b":0.85,"o":1.18},{"t":2.5,"b":0.82,"o":1.22},{"t":2.6,"b":0.74,"o":1.44},{"t":2.7,"b":0.74,"o":1.11},{"t":2.8,"b":0.71,"o":0.82},{"t":3,"b":0.67,"o":0.8},{"t":3.2,"b":0.6,"o":0.82},{"t":3.4,"b":0.6,"o":0.8},{"t":3.6,"b":0.61,"o":0.82},{"t":3.8,"b":0.62,"o":0.79},{"t":4,"b":0.64,"o":0.8}],
"auM":[{"t":-2,"b":0.56,"o":0.42},{"t":-1.9,"b":0.56,"o":0.74},{"t":-1.8,"b":0.56,"o":0.78},{"t":-1.7,"b":0.56,"o":0.67},{"t":-1.6,"b":0.56,"o":0.74},{"t":-1.5,"b":0.74,"o":0.64},{"t":-1.4,"b":0.85,"o":0.82},{"t":-1.3,"b":0.64,"o":0.74},{"t":-1.2,"b":0.6,"o":0.82},{"t":-1.1,"b":0.64,"o":0.72},{"t":-1,"b":0.64,"o":0.64},{"t":-0.8,"b":0.64,"o":0.6},{"t":-0.6,"b":0.62,"o":0.56},{"t":-0.5,"b":0.64,"o":0.74},{"t":-0.4,"b":0.62,"o":0.6},{"t":-0.3,"b":0.64,"o":0.89},{"t":-0.2,"b":0.66,"o":0.96},{"t":-0.15,"b":0.66,"o":0.64},{"t":-0.1,"b":0.65,"o":0.6},{"t":0,"b":0.64,"o":0.56},{"t":0.05,"b":1.4,"o":1.11},{"t":0.1,"b":1.99,"o":1.47},{"t":0.2,"b":2.02,"o":1.69},{"t":0.3,"b":2.2,"o":1.84},{"t":0.4,"b":2.06,"o":1.73},{"t":0.5,"b":2.97,"o":1.55},{"t":0.55,"b":2.5,"o":1.6},{"t":0.6,"b":2.28,"o":1.77},{"t":0.65,"b":2.75,"o":1.8},{"t":0.7,"b":2.35,"o":1.84},{"t":0.75,"b":2.1,"o":1.62},{"t":0.8,"b":1.84,"o":2.79},{"t":0.85,"b":1.8,"o":2.9},{"t":0.9,"b":1.77,"o":1.91},{"t":1,"b":1.99,"o":1.36},{"t":1.05,"b":2.09,"o":1.6},{"t":1.1,"b":1.77,"o":1.99},{"t":1.2,"b":1.84,"o":2.42},{"t":1.3,"b":1.77,"o":2.46},{"t":1.35,"b":1.72,"o":1.91},{"t":1.4,"b":1.66,"o":1.69},{"t":1.5,"b":1.58,"o":1.36},{"t":1.6,"b":1.47,"o":1.33},{"t":1.7,"b":1.33,"o":1.11},{"t":1.8,"b":1.18,"o":1},{"t":1.9,"b":1.26,"o":1.44},{"t":2,"b":1.04,"o":1.22},{"t":2.05,"b":0.74,"o":1.1},{"t":2.1,"b":0.56,"o":0.96},{"t":2.2,"b":0.54,"o":0.74},{"t":2.4,"b":0.54,"o":0.78},{"t":2.6,"b":0.54,"o":0.93},{"t":2.8,"b":0.54,"o":0.64},{"t":3,"b":0.54,"o":0.74},{"t":3.2,"b":0.54,"o":0.6},{"t":3.4,"b":0.54,"o":0.64},{"t":3.6,"b":0.54,"o":0.56},{"t":3.8,"b":0.54,"o":0.67},{"t":4,"b":0.54,"o":0.6}],
"auS":[{"t":-2,"b":0.4,"o":0.6},{"t":-1.9,"b":0.4,"o":0.93},{"t":-1.8,"b":0.4,"o":0.85},{"t":-1.7,"b":0.4,"o":0.82},{"t":-1.6,"b":0.42,"o":0.74},{"t":-1.5,"b":0.67,"o":0.82},{"t":-1.4,"b":0.82,"o":0.85},{"t":-1.3,"b":0.67,"o":0.75},{"t":-1.2,"b":0.56,"o":0.71},{"t":-1,"b":0.64,"o":0.78},{"t":-0.8,"b":0.64,"o":0.82},{"t":-0.6,"b":0.67,"o":0.8},{"t":-0.4,"b":0.74,"o":0.82},{"t":-0.2,"b":0.78,"o":0.74},{"t":-0.1,"b":0.96,"o":0.8},{"t":0,"b":1.29,"o":1.11},{"t":0.05,"b":1.99,"o":1.2},{"t":0.1,"b":2.39,"o":1.29},{"t":0.15,"b":1.95,"o":1.35},{"t":0.2,"b":2.2,"o":1.44},{"t":0.25,"b":1.91,"o":1.3},{"t":0.3,"b":2.42,"o":1.18},{"t":0.35,"b":2.97,"o":1.2},{"t":0.4,"b":2.72,"o":1.22},{"t":0.5,"b":2.28,"o":1.04},{"t":0.6,"b":1.84,"o":1.11},{"t":0.7,"b":2.06,"o":1.4},{"t":0.75,"b":2.15,"o":1.8},{"t":0.8,"b":2.2,"o":1.36},{"t":0.9,"b":2.42,"o":1.22},{"t":1,"b":2.28,"o":1.18},{"t":1.1,"b":1.91,"o":1.07},{"t":1.2,"b":1.47,"o":1.04},{"t":1.3,"b":1.77,"o":1.44},{"t":1.35,"b":2.09,"o":1.51},{"t":1.4,"b":1.84,"o":1.07},{"t":1.5,"b":1.47,"o":0.96},{"t":1.6,"b":1.36,"o":0.85},{"t":1.7,"b":1.62,"o":0.96},{"t":1.8,"b":1.36,"o":1.04},{"t":1.9,"b":1.77,"o":1.11},{"t":2,"b":1.62,"o":1.26},{"t":2.05,"b":1.11,"o":1.15},{"t":2.1,"b":0.49,"o":1.04},{"t":2.2,"b":0.4,"o":1},{"t":2.4,"b":0.4,"o":1.11},{"t":2.6,"b":0.4,"o":1.04},{"t":2.8,"b":0.4,"o":1.18},{"t":3,"b":0.4,"o":0.96},{"t":3.1,"b":0.4,"o":1.26},{"t":3.2,"b":0.4,"o":1.07},{"t":3.4,"b":0.4,"o":1.04},{"t":3.6,"b":0.4,"o":0.93},{"t":3.8,"b":0.4,"o":1.04},{"t":4,"b":0.4,"o":1}]
},
"columns":3,
"spacing":{"row":30.2,"column":11.5},
"bounds":"flush",
"concat":[
{"width":331,"height":163.5,"title":{"text":"Healthy","orient":"top","frame":"group","offset":-12},"data":{"name":"czH"},
"encoding":{"x":{"field":"t","type":"quantitative","scale":{"domain":[-2,4],"nice":false,"zero":false},"axis":{"values":[-2,-1,0,1,2,3,4],"labels":false,"title":null}}},
"layer":[
{"mark":{"type":"area","color":"#d4d4d4","opacity":0.9,"interpolate":"monotone"},"encoding":{"y":{"field":"w","type":"quantitative","scale":{"domain":[-3.5,1.8],"nice":false,"zero":false},"axis":{"values":[-3,-2,-1,0,1],"labelPadding":7,"labelExpr":"replace(datum.label,'−','-')","title":"×10⁻⁵","titleAngle":0,"titleX":1,"titleY":-2,"titleAlign":"left","titleBaseline":"bottom","titleFont":"DejaVu Sans","titleFontSize":15,"titleColor":"#3a3a3a"}},"y2":{"field":"h"}}},
{"transform":[{"fold":["a","b","c"],"as":["k","v"]}],"mark":{"type":"line","color":"#c6c6c6","strokeWidth":1,"clip":true,"interpolate":"monotone"},"encoding":{"y":{"field":"v","type":"quantitative","axis":null},"detail":{"field":"k"}}},
{"transform":[{"fold":["u","l"],"as":["k","v"]}],"mark":{"type":"line","color":"#4d4d4d","strokeWidth":1.2,"strokeDash":[7,4],"interpolate":"monotone"},"encoding":{"y":{"field":"v","type":"quantitative","axis":null},"detail":{"field":"k"}}},
{"mark":{"type":"line","color":"#000","strokeWidth":2.8},"encoding":{"y":{"field":"m","type":"quantitative","axis":{"orient":"left","labels":false,"grid":false,"title":"Cz","titleAngle":-90,"titleX":-50,"titleY":81.75,"titleAlign":"center","titleBaseline":"middle","titleFontSize":19}}}}
],
"resolve":{"axis":{"y":"independent"}}},
{"width":331,"height":163.5,"title":{"text":"PD with Mild FOG","orient":"top","frame":"group","offset":7},"data":{"name":"czM"},
"encoding":{"x":{"field":"t","type":"quantitative","scale":{"domain":[-2,4],"nice":false,"zero":false},"axis":{"values":[-2,-1,0,1,2,3,4],"labels":false,"title":null}}},
"layer":[
{"mark":{"type":"area","color":"#d4d4d4","opacity":0.6,"interpolate":"monotone"},"encoding":{"y":{"field":"w","type":"quantitative","scale":{"domain":[-3.5,1.8],"nice":false,"zero":false},"axis":{"values":[-3,-2,-1,0,1],"labels":false,"title":null}},"y2":{"field":"h"}}},
{"transform":[{"fold":["a","b","c"],"as":["k","v"]}],"mark":{"type":"line","color":"#c6c6c6","strokeWidth":1,"clip":true,"interpolate":"monotone"},"encoding":{"y":{"field":"v","type":"quantitative","axis":null},"detail":{"field":"k"}}},
{"transform":[{"fold":["u","l"],"as":["k","v"]}],"mark":{"type":"line","color":"#4d4d4d","strokeWidth":1.2,"strokeDash":[7,4],"interpolate":"monotone"},"encoding":{"y":{"field":"v","type":"quantitative","axis":null},"detail":{"field":"k"}}},
{"mark":{"type":"line","color":"#000","strokeWidth":2.8},"encoding":{"y":{"field":"m","type":"quantitative","axis":null}}}
]},
{"width":331,"height":163.5,"title":{"text":"PD with Severe FOG","orient":"top","frame":"group","offset":7},"data":{"name":"czS"},
"encoding":{"x":{"field":"t","type":"quantitative","scale":{"domain":[-2,4],"nice":false,"zero":false},"axis":{"values":[-2,-1,0,1,2,3,4],"labels":false,"title":null}}},
"layer":[
{"mark":{"type":"area","color":"#d4d4d4","opacity":0.45,"interpolate":"monotone"},"encoding":{"y":{"field":"w","type":"quantitative","scale":{"domain":[-3.5,1.8],"nice":false,"zero":false},"axis":{"values":[-3,-2,-1,0,1],"labels":false,"title":null}},"y2":{"field":"h"}}},
{"transform":[{"fold":["a","b","c"],"as":["k","v"]}],"mark":{"type":"line","color":"#c6c6c6","strokeWidth":1,"clip":true,"interpolate":"monotone"},"encoding":{"y":{"field":"v","type":"quantitative","axis":null},"detail":{"field":"k"}}},
{"transform":[{"fold":["u","l"],"as":["k","v"]}],"mark":{"type":"line","color":"#4d4d4d","strokeWidth":1.2,"strokeDash":[7,4],"interpolate":"monotone"},"encoding":{"y":{"field":"v","type":"quantitative","axis":null},"detail":{"field":"k"}}},
{"mark":{"type":"line","color":"#000","strokeWidth":2.8},"encoding":{"y":{"field":"m","type":"quantitative","axis":null}}}
]},
{"width":331,"height":163.5,"title":{"text":"Amplitude (Volt)","orient":"left","frame":"group","offset":14,"dx":16},"data":{"name":"f1H"},
"encoding":{"x":{"field":"t","type":"quantitative","scale":{"domain":[-2,4],"nice":false,"zero":false},"axis":{"values":[-2,-1,0,1,2,3,4],"labels":false,"title":null}}},
"layer":[
{"mark":{"type":"area","color":"#d4d4d4","opacity":0.9,"interpolate":"monotone"},"encoding":{"y":{"field":"w","type":"quantitative","scale":{"domain":[-5.4,4.6],"nice":false,"zero":false},"axis":{"values":[-4,-2,0,2,4],"labelPadding":7,"labelExpr":"replace(datum.label,'−','-')","title":"×10⁻⁵","titleAngle":0,"titleX":1,"titleY":-2,"titleAlign":"left","titleBaseline":"bottom","titleFont":"DejaVu Sans","titleFontSize":15,"titleColor":"#3a3a3a"}},"y2":{"field":"h"}}},
{"transform":[{"fold":["a","b","c"],"as":["k","v"]}],"mark":{"type":"line","color":"#c6c6c6","strokeWidth":1,"clip":true,"interpolate":"monotone"},"encoding":{"y":{"field":"v","type":"quantitative","axis":null},"detail":{"field":"k"}}},
{"transform":[{"fold":["u","l"],"as":["k","v"]}],"mark":{"type":"line","color":"#4d4d4d","strokeWidth":1.2,"strokeDash":[7,4],"interpolate":"monotone"},"encoding":{"y":{"field":"v","type":"quantitative","axis":null},"detail":{"field":"k"}}},
{"mark":{"type":"line","color":"#000","strokeWidth":2.8},"encoding":{"y":{"field":"m","type":"quantitative","axis":{"orient":"left","labels":false,"grid":false,"title":"Fc1","titleAngle":-90,"titleX":-48,"titleY":81.75,"titleAlign":"center","titleBaseline":"middle","titleFontSize":19}}}}
],
"resolve":{"axis":{"y":"independent"}}},
{"width":331,"height":163.5,"data":{"name":"f1M"},
"encoding":{"x":{"field":"t","type":"quantitative","scale":{"domain":[-2,4],"nice":false,"zero":false},"axis":{"values":[-2,-1,0,1,2,3,4],"labels":false,"title":null}}},
"layer":[
{"mark":{"type":"area","color":"#d4d4d4","opacity":0.6,"interpolate":"monotone"},"encoding":{"y":{"field":"w","type":"quantitative","scale":{"domain":[-5.4,4.6],"nice":false,"zero":false},"axis":{"values":[-4,-2,0,2,4],"labels":false,"title":null}},"y2":{"field":"h"}}},
{"transform":[{"fold":["a","b","c"],"as":["k","v"]}],"mark":{"type":"line","color":"#c6c6c6","strokeWidth":1,"clip":true,"interpolate":"monotone"},"encoding":{"y":{"field":"v","type":"quantitative","axis":null},"detail":{"field":"k"}}},
{"transform":[{"fold":["u","l"],"as":["k","v"]}],"mark":{"type":"line","color":"#4d4d4d","strokeWidth":1.2,"strokeDash":[7,4],"interpolate":"monotone"},"encoding":{"y":{"field":"v","type":"quantitative","axis":null},"detail":{"field":"k"}}},
{"mark":{"type":"line","color":"#000","strokeWidth":2.8},"encoding":{"y":{"field":"m","type":"quantitative","axis":null}}}
]},
{"width":331,"height":163.5,"data":{"name":"f1S"},
"encoding":{"x":{"field":"t","type":"quantitative","scale":{"domain":[-2,4],"nice":false,"zero":false},"axis":{"values":[-2,-1,0,1,2,3,4],"labels":false,"title":null}}},
"layer":[
{"mark":{"type":"area","color":"#d4d4d4","opacity":0.45,"interpolate":"monotone"},"encoding":{"y":{"field":"w","type":"quantitative","scale":{"domain":[-5.4,4.6],"nice":false,"zero":false},"axis":{"values":[-4,-2,0,2,4],"labels":false,"title":null}},"y2":{"field":"h"}}},
{"transform":[{"fold":["a","b","c"],"as":["k","v"]}],"mark":{"type":"line","color":"#c6c6c6","strokeWidth":1,"clip":true,"interpolate":"monotone"},"encoding":{"y":{"field":"v","type":"quantitative","axis":null},"detail":{"field":"k"}}},
{"transform":[{"fold":["u","l"],"as":["k","v"]}],"mark":{"type":"line","color":"#4d4d4d","strokeWidth":1.2,"strokeDash":[7,4],"interpolate":"monotone"},"encoding":{"y":{"field":"v","type":"quantitative","axis":null},"detail":{"field":"k"}}},
{"mark":{"type":"line","color":"#000","strokeWidth":2.8},"encoding":{"y":{"field":"m","type":"quantitative","axis":null}}}
]},
{"width":331,"height":163.5,"data":{"name":"f2H"},
"encoding":{"x":{"field":"t","type":"quantitative","scale":{"domain":[-2,4],"nice":false,"zero":false},"axis":{"values":[-2,-1,0,1,2,3,4],"labels":false,"title":null}}},
"layer":[
{"mark":{"type":"area","color":"#d4d4d4","opacity":0.9,"interpolate":"monotone"},"encoding":{"y":{"field":"w","type":"quantitative","scale":{"domain":[-5.4,4.55],"nice":false,"zero":false},"axis":{"values":[-4,-2,0,2,4],"labelPadding":7,"labelExpr":"replace(datum.label,'−','-')","title":"×10⁻⁵","titleAngle":0,"titleX":1,"titleY":-2,"titleAlign":"left","titleBaseline":"bottom","titleFont":"DejaVu Sans","titleFontSize":15,"titleColor":"#3a3a3a"}},"y2":{"field":"h"}}},
{"transform":[{"fold":["a","b","c"],"as":["k","v"]}],"mark":{"type":"line","color":"#c6c6c6","strokeWidth":1,"clip":true,"interpolate":"monotone"},"encoding":{"y":{"field":"v","type":"quantitative","axis":null},"detail":{"field":"k"}}},
{"transform":[{"fold":["u","l"],"as":["k","v"]}],"mark":{"type":"line","color":"#4d4d4d","strokeWidth":1.2,"strokeDash":[7,4],"interpolate":"monotone"},"encoding":{"y":{"field":"v","type":"quantitative","axis":null},"detail":{"field":"k"}}},
{"mark":{"type":"line","color":"#000","strokeWidth":2.8},"encoding":{"y":{"field":"m","type":"quantitative","axis":{"orient":"left","labels":false,"grid":false,"title":"Fc2","titleAngle":-90,"titleX":-44,"titleY":81.75,"titleAlign":"center","titleBaseline":"middle","titleFontSize":19}}}}
],
"resolve":{"axis":{"y":"independent"}}},
{"width":331,"height":163.5,"data":{"name":"f2M"},
"encoding":{"x":{"field":"t","type":"quantitative","scale":{"domain":[-2,4],"nice":false,"zero":false},"axis":{"values":[-2,-1,0,1,2,3,4],"labels":false,"title":null}}},
"layer":[
{"mark":{"type":"area","color":"#d4d4d4","opacity":0.6,"interpolate":"monotone"},"encoding":{"y":{"field":"w","type":"quantitative","scale":{"domain":[-5.4,4.55],"nice":false,"zero":false},"axis":{"values":[-4,-2,0,2,4],"labels":false,"title":null}},"y2":{"field":"h"}}},
{"transform":[{"fold":["a","b","c"],"as":["k","v"]}],"mark":{"type":"line","color":"#c6c6c6","strokeWidth":1,"clip":true,"interpolate":"monotone"},"encoding":{"y":{"field":"v","type":"quantitative","axis":null},"detail":{"field":"k"}}},
{"transform":[{"fold":["u","l"],"as":["k","v"]}],"mark":{"type":"line","color":"#4d4d4d","strokeWidth":1.2,"strokeDash":[7,4],"interpolate":"monotone"},"encoding":{"y":{"field":"v","type":"quantitative","axis":null},"detail":{"field":"k"}}},
{"mark":{"type":"line","color":"#000","strokeWidth":2.8},"encoding":{"y":{"field":"m","type":"quantitative","axis":null}}}
]},
{"width":331,"height":163.5,"data":{"name":"f2S"},
"encoding":{"x":{"field":"t","type":"quantitative","scale":{"domain":[-2,4],"nice":false,"zero":false},"axis":{"values":[-2,-1,0,1,2,3,4],"labels":false,"title":null}}},
"layer":[
{"mark":{"type":"area","color":"#d4d4d4","opacity":0.45,"interpolate":"monotone"},"encoding":{"y":{"field":"w","type":"quantitative","scale":{"domain":[-5.4,4.55],"nice":false,"zero":false},"axis":{"values":[-4,-2,0,2,4],"labels":false,"title":null}},"y2":{"field":"h"}}},
{"transform":[{"fold":["a","b","c"],"as":["k","v"]}],"mark":{"type":"line","color":"#c6c6c6","strokeWidth":1,"clip":true,"interpolate":"monotone"},"encoding":{"y":{"field":"v","type":"quantitative","axis":null},"detail":{"field":"k"}}},
{"transform":[{"fold":["u","l"],"as":["k","v"]}],"mark":{"type":"line","color":"#4d4d4d","strokeWidth":1.2,"strokeDash":[7,4],"interpolate":"monotone"},"encoding":{"y":{"field":"v","type":"quantitative","axis":null},"detail":{"field":"k"}}},
{"mark":{"type":"line","color":"#000","strokeWidth":2.8},"encoding":{"y":{"field":"m","type":"quantitative","axis":null}}}
]},
{"width":331,"height":163.5,"title":{"text":"Amplitude (AU)","orient":"left","frame":"group","offset":13},"data":{"name":"auH"},
"transform":[{"fold":["b","o"],"as":["k","v"]}],
"mark":{"type":"line","strokeWidth":2.6},
"encoding":{
"x":{"field":"t","type":"quantitative","scale":{"domain":[-2,4],"nice":false,"zero":false},"axis":{"values":[-2,-1,0,1,2,3,4],"labelPadding":11,"labelFlush":false,"labelExpr":"replace(datum.label,'−','-')","title":null}},
"y":{"field":"v","type":"quantitative","scale":{"domain":[0,3.6],"nice":false,"zero":false},"axis":{"values":[1,2,3],"labels":false,"title":null}},
"color":{"field":"k","type":"nominal","scale":{"domain":["b","o"],"range":["#0072BD","#D95319"]},"legend":null}}},
{"width":331,"height":163.5,"data":{"name":"auM"},
"transform":[{"fold":["b","o"],"as":["k","v"]}],
"mark":{"type":"line","strokeWidth":2.6},
"encoding":{
"x":{"field":"t","type":"quantitative","scale":{"domain":[-2,4],"nice":false,"zero":false},"axis":{"values":[-2,-1,0,1,2,3,4],"labelPadding":11,"labelFlush":false,"labelExpr":"replace(datum.label,'−','-')","title":"Time (s)","titlePadding":4}},
"y":{"field":"v","type":"quantitative","scale":{"domain":[0,3.6],"nice":false,"zero":false},"axis":{"values":[1,2,3],"labels":false,"title":null}},
"color":{"field":"k","type":"nominal","scale":{"domain":["b","o"],"range":["#0072BD","#D95319"]},"legend":null}}},
{"width":331,"height":163.5,"data":{"name":"auS"},
"transform":[{"fold":["b","o"],"as":["k","v"]}],
"mark":{"type":"line","strokeWidth":2.6},
"encoding":{
"x":{"field":"t","type":"quantitative","scale":{"domain":[-2,4],"nice":false,"zero":false},"axis":{"values":[-2,-1,0,1,2,3,4],"labelPadding":11,"labelFlush":false,"labelExpr":"replace(datum.label,'−','-')","title":null}},
"y":{"field":"v","type":"quantitative","scale":{"domain":[0,3.6],"nice":false,"zero":false},"axis":{"values":[1,2,3],"labels":false,"title":null}},
"color":{"field":"k","type":"nominal","scale":{"domain":["b","o"],"range":["#0072BD","#D95319"]},"legend":null}}}
]
}
